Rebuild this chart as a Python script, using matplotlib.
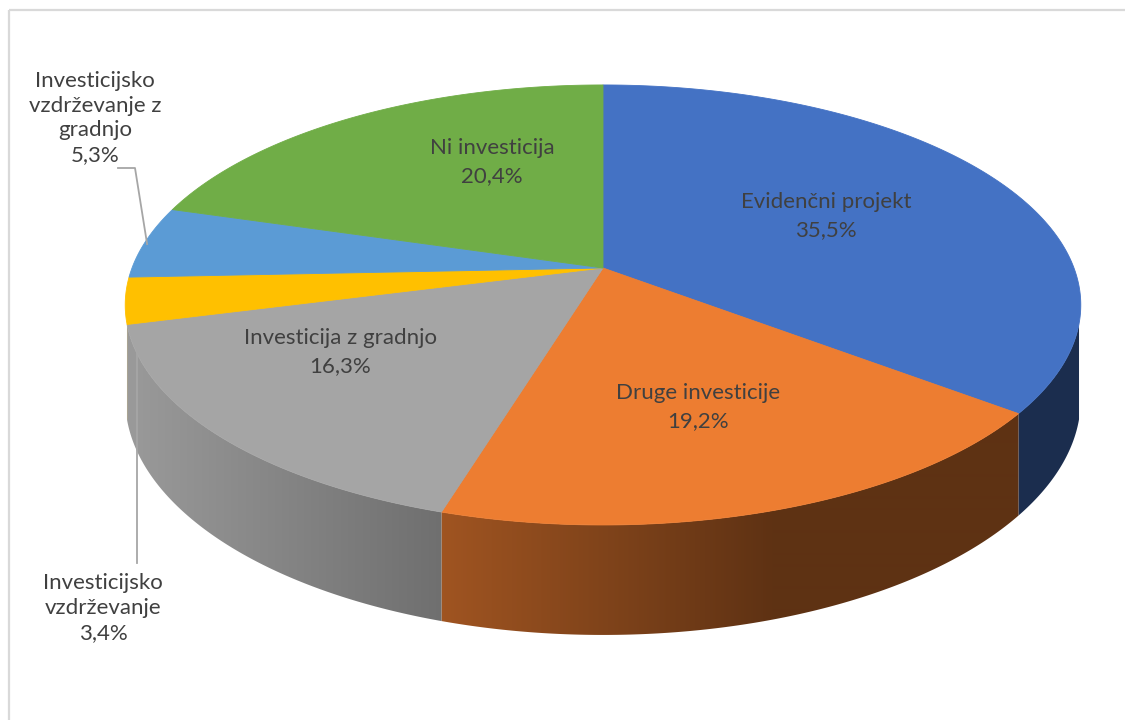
import numpy as np
import matplotlib.pyplot as plt
from matplotlib.patches import Polygon, Rectangle
from matplotlib.colors import to_rgb

# slices, clockwise from 12 o'clock
names = ['Evidenčni projekt', 'Druge investicije', 'Investicija z gradnjo',
         'Investicijsko\nvzdrževanje', 'Investicijsko\nvzdrževanje z\ngradnjo',
         'Ni investicija']
shares = [35.5, 19.2, 16.3, 3.4, 5.3, 20.4]
colors = ['#4472C4', '#ED7D31', '#A5A5A5', '#FFC000', '#5B9BD5', '#70AD47']

# label anchors (pixels)
label_xy = [(826, 216), (698, 407), (340, 352), (103, 608), (95, 118), (492, 162)]
outside = [False, False, False, True, True, False]

W, H = 1125, 720
cx, cy = 603, 268          # apex of the pie on screen
A, B = 471, 213.8          # horizontal / vertical radius
k = 0.168                  # perspective
D = 91.5                   # thickness


def proj(theta, r=1.0, z=0.0):
    t = np.radians(theta)
    u = r * np.sin(t)
    v = -r * np.cos(t)
    s = 1 - k * v
    return cx + A * u / s, cy + (B * v + z) / s


fig = plt.figure(figsize=(W / 100, H / 100), dpi=100)
ax = fig.add_axes([0, 0, 1, 1])
ax.set_xlim(0, W)
ax.set_ylim(H, 0)
ax.axis('off')

ax.add_patch(Rectangle((8.5, 9.5), 3000, 3000, fill=False, ec='#D9D9D9', lw=1.6))

total = sum(shares)
edges = np.concatenate([[0], np.cumsum(shares) / total * 360])

# horizontal light falloff for the side wall
xs = np.arange(W)
fall = np.clip(0.93 - 0.39 * ((xs - cx) / A + 1), 0.40, 1.0)

# visible part of the wall (front half)
vis_lo, vis_hi = 104.5, 255.5
for i in range(len(shares)):
    a0, a1 = max(edges[i], vis_lo), min(edges[i + 1], vis_hi)
    if a1 <= a0:
        continue
    th = np.linspace(a0, a1, 150)
    top = [proj(t) for t in th]
    bot = [proj(t, z=D) for t in th[::-1]]
    poly = Polygon(top + bot, closed=True, fc='none', ec='none', zorder=2)
    ax.add_patch(poly)
    base = np.array(to_rgb(colors[i]))
    img = (fall[:, None] * base[None, :])[None, :, :]
    im = ax.imshow(img, extent=(0, W, H, 0), aspect='auto', zorder=2,
                   interpolation='bilinear')
    im.set_clip_path(poly)

ax.set_xlim(0, W)
ax.set_ylim(H, 0)

# top faces
for i in range(len(shares)):
    th = np.linspace(edges[i], edges[i + 1], 200)
    pts = [(cx, cy)] + [proj(t) for t in th]
    ax.add_patch(Polygon(pts, closed=True, fc=colors[i], ec=colors[i], lw=0.6, zorder=3))

# leader lines
mid_small = (edges[4] + edges[5]) / 2
ex, ey = proj(mid_small)
ax.plot([118, 135, ex + 2], [168, 168, ey + 2], color='#A6A6A6', lw=1.3, zorder=4)
ax.plot([137, 137], [563, 345], color='#A6A6A6', lw=1.3, zorder=4)

for i in range(len(shares)):
    txt = names[i] + '\n' + f'{shares[i]:.1f}'.replace('.', ',') + '%'
    x, y = label_xy[i]
    ax.text(x, y, txt, ha='center', va='center', fontsize=16, family='Lato',
            color='#404040', linespacing=1.3 if outside[i] else 1.45, zorder=5)

fig.savefig('out.png', dpi=100)
